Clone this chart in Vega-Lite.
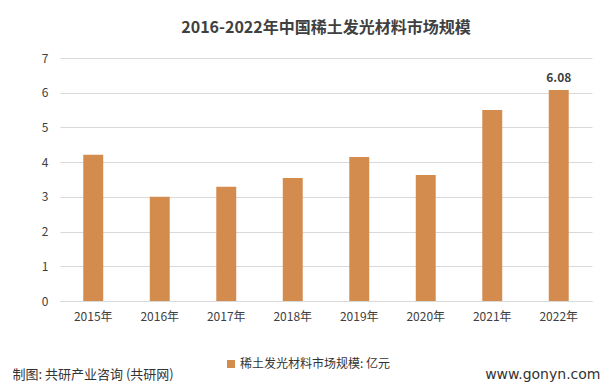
{
  "$schema": "https://vega.github.io/schema/vega-lite/v6.json",
  "autosize": {"type": "none"},
  "width": 532,
  "height": 243,
  "padding": {"left": 60, "top": 58, "right": 21, "bottom": 90},
  "background": "#FFFFFF",
  "title": {
    "text": "2016-2022年中国稀土发光材料市场规模",
    "font": "Noto Sans CJK SC",
    "fontSize": 16,
    "fontWeight": "bold",
    "color": "#404040",
    "anchor": "middle",
    "offset": 16
  },
  "data": {
    "values": [
      {"year": "2015年", "value": 4.21, "series": "稀土发光材料市场规模: 亿元"},
      {"year": "2016年", "value": 3.0, "series": "稀土发光材料市场规模: 亿元"},
      {"year": "2017年", "value": 3.29, "series": "稀土发光材料市场规模: 亿元"},
      {"year": "2018年", "value": 3.54, "series": "稀土发光材料市场规模: 亿元"},
      {"year": "2019年", "value": 4.15, "series": "稀土发光材料市场规模: 亿元"},
      {"year": "2020年", "value": 3.63, "series": "稀土发光材料市场规模: 亿元"},
      {"year": "2021年", "value": 5.5, "series": "稀土发光材料市场规模: 亿元"},
      {"year": "2022年", "value": 6.08, "series": "稀土发光材料市场规模: 亿元"}
    ]
  },
  "encoding": {
    "x": {
      "field": "year",
      "type": "nominal",
      "sort": null,
      "scale": {"paddingInner": 0.7, "paddingOuter": 0.35},
      "axis": {
        "title": "www.gonyn.com",
        "titleFont": "DejaVu Sans",
        "titleFontSize": 14,
        "titleFontWeight": "normal",
        "titleColor": "#333333",
        "titleAnchor": "start",
        "titleAlign": "right",
        "titleBaseline": "alphabetic",
        "titleX": 540,
        "titleY": 77,
        "labelAngle": 0,
        "labelFont": "Noto Sans CJK SC",
        "labelFontSize": 12,
        "labelColor": "#404040",
        "labelPadding": 10,
        "ticks": false,
        "domainColor": "#D9D9D9",
        "grid": false
      }
    },
    "y": {
      "field": "value",
      "type": "quantitative",
      "scale": {"domain": [0, 7]},
      "axis": {
        "values": [0, 1, 2, 3, 4, 5, 6, 7],
        "title": "制图: 共研产业咨询 (共研网)",
        "titleFont": "Noto Sans CJK SC",
        "titleFontSize": 13,
        "titleFontWeight": "normal",
        "titleColor": "#333333",
        "titleAngle": 0,
        "titleAnchor": "start",
        "titleAlign": "left",
        "titleBaseline": "alphabetic",
        "titleX": -48,
        "titleY": 320,
        "labelFont": "Noto Sans CJK SC",
        "labelFontSize": 12,
        "labelColor": "#404040",
        "labelPadding": 12,
        "ticks": false,
        "domain": false,
        "gridColor": "#D9D9D9",
        "gridWidth": 1
      }
    }
  },
  "layer": [
    {
      "mark": {"type": "bar", "color": "#D48C4E"},
      "encoding": {
        "color": {
          "field": "series",
          "type": "nominal",
          "scale": {"range": ["#D48C4E"]},
          "legend": {
            "title": null,
            "orient": "none",
            "legendX": 165,
            "legendY": 300,
            "symbolType": "square",
            "symbolSize": 64,
            "labelFont": "Noto Sans CJK SC",
            "labelFontSize": 12,
            "labelColor": "#333333",
            "labelOffset": 3
          }
        }
      }
    },
    {
      "transform": [{"filter": "datum.year == '2022年'"}],
      "mark": {
        "type": "text",
        "dy": -12,
        "font": "Noto Sans CJK SC",
        "fontSize": 12,
        "fontWeight": "bold",
        "color": "#404040"
      },
      "encoding": {
        "text": {"field": "value", "type": "quantitative", "format": ".2f"}
      }
    }
  ],
  "config": {
    "view": {"stroke": null}
  }
}
